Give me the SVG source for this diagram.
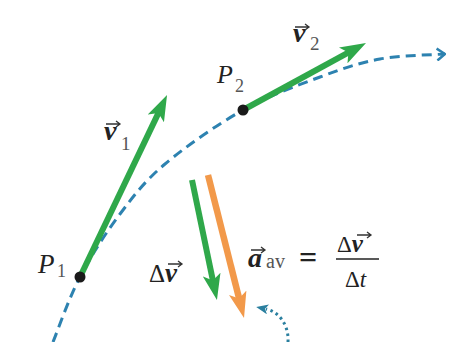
<svg xmlns="http://www.w3.org/2000/svg" width="449" height="342" viewBox="0 0 449 342">
<style>
.traj{fill:none;stroke:#2d82b0;stroke-width:3;stroke-dasharray:10 6}
.vg{stroke:#2fa84a;stroke-width:6;fill:none}
.vo{stroke:#f2994a;stroke-width:6.5;fill:none}
.dot{fill:#1a1a1a}
.lbl{font-family:'Liberation Serif','Times New Roman','DejaVu Serif',serif;fill:#222}
.it{font-style:italic}
.bi{font-style:italic;font-weight:bold}
.sub{fill:#555;font-style:normal;font-weight:normal}
.acc{fill:none;stroke:#333;stroke-width:1.3}
</style>
<defs>
<marker id="hg" viewBox="0 0 26 18" refX="12" refY="9" markerWidth="26" markerHeight="18" markerUnits="userSpaceOnUse" orient="auto"><path d="M0,0 L26,9 L0,18 L6,9 Z" fill="#2fa84a"/></marker>
<marker id="ho" viewBox="0 0 26 18" refX="12" refY="9" markerWidth="26" markerHeight="18" markerUnits="userSpaceOnUse" orient="auto"><path d="M0,0 L26,9 L0,18 L6,9 Z" fill="#f2994a"/></marker>
<marker id="chev" viewBox="0 0 10 14" refX="9" refY="7" markerWidth="10" markerHeight="14" markerUnits="userSpaceOnUse" orient="auto"><path d="M1,1 L9,7 L1,13" fill="none" stroke="#2d82b0" stroke-width="2.5"/></marker>
<marker id="hd" viewBox="0 0 12 10" refX="2" refY="5" markerWidth="12" markerHeight="10" markerUnits="userSpaceOnUse" orient="auto"><path d="M0,0 L12,5 L0,10 L3,5 Z" fill="#2a7f9f"/></marker>
<path id="vecacc" class="acc" d="M0,0 H14 M10,-3 L14,0 L10,3"/>
</defs>
<g id="connectors">
<path id="trajectory" class="traj" marker-end="url(#chev)" d="M53,342 C57.5,331.2 68.8,298.3 80,277 C91.2,255.7 105.8,232.8 120,214 C134.2,195.2 144.5,181.3 165,164 C185.5,146.7 217.2,124.5 243,110 C268.8,95.5 297.2,85.5 320,77 C342.8,68.5 359.3,62.8 380,59 C400.7,55.2 433.3,54.8 445,54"/>
<line id="arrow-v1" class="vg" x1="80" y1="277" x2="161" y2="107.6" marker-end="url(#hg)"/>
<line id="arrow-v2" class="vg" x1="243" y1="110" x2="353.7" y2="49.7" marker-end="url(#hg)"/>
<line id="arrow-dv" class="vg" x1="192" y1="180" x2="214.1" y2="286.3" marker-end="url(#hg)"/>
<line id="arrow-aav" class="vo" x1="208" y1="175" x2="240.6" y2="304.4" marker-end="url(#ho)"/>
<path id="arrow-dotted" d="M288,342 C289,326 280,312 266,309" fill="none" stroke="#2a7f9f" stroke-width="3" stroke-dasharray="2.5 3.5" marker-end="url(#hd)"/>
</g>
<g font-family="Liberation Serif, serif">
<g id="P1">
<circle class="dot" cx="80" cy="277" r="5.5"/>
<text class="lbl it" x="38" y="273" font-size="27">P<tspan class="sub" font-size="18" x="57" y="277">1</tspan></text>
</g>
<g id="P2">
<circle class="dot" cx="243" cy="110" r="5.5"/>
<text class="lbl it" x="217" y="83" font-size="26">P<tspan class="sub" font-size="18" x="235" y="92">2</tspan></text>
</g>
<g id="v1-label">
<text class="lbl bi" x="104" y="140" font-size="28">v<tspan class="sub" font-size="19" x="121" y="150">1</tspan></text>
<use href="#vecacc" x="106" y="124"/>
</g>
<g id="v2-label">
<text class="lbl bi" x="293" y="42" font-size="28">v<tspan class="sub" font-size="19" x="310" y="50">2</tspan></text>
<use href="#vecacc" x="295" y="27"/>
</g>
<g id="dv-label">
<text class="lbl" x="149" y="282" font-size="25">Δ<tspan class="bi" font-size="27">v</tspan></text>
<use href="#vecacc" x="168" y="264"/>
</g>
<g id="aav-label">
<text class="lbl bi" x="248" y="267" font-size="28">a<tspan class="sub" font-size="20" x="266" y="268">av</tspan></text>
<use href="#vecacc" x="251" y="250"/>
<text class="lbl" x="299" y="268" font-size="32" font-weight="bold">=</text>
<text class="lbl" x="337" y="252" font-size="23">Δ<tspan class="bi" font-size="25">v</tspan></text>
<use href="#vecacc" x="357" y="235"/>
<line x1="336" y1="259" x2="379" y2="259" stroke="#222" stroke-width="1.6"/>
<text class="lbl" x="345" y="287" font-size="23">Δ<tspan class="it">t</tspan></text>
</g>
</g>
</svg>
